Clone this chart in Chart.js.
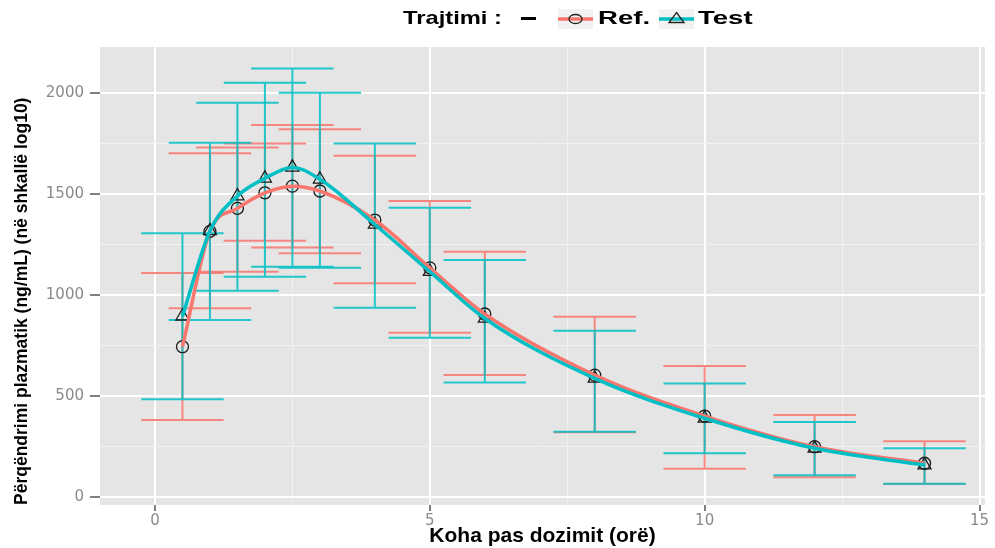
<!DOCTYPE html>
<html lang="sq">
<head>
  <meta charset="UTF-8" />
  <title>Përqëndrimi plazmatik</title>
  <script src="https://cdn.jsdelivr.net/npm/chart.js"></script>
  <style>
    html, body { margin: 0; padding: 0; background: #fff; }
    .wrap { position: relative; width: 995px; height: 548px; overflow: hidden; }
    canvas { position: absolute; left: 0; top: 0; }
    .lg { position: absolute; font-family: "Liberation Sans", Arial, sans-serif; font-weight: bold;
          font-size: 19px; line-height: 20px; color: #000; transform-origin: left center; white-space: nowrap; }
    .key { position: absolute; top: 9px; width: 35px; height: 20px; }
  </style>
</head>
<body>
  <div class="wrap">
    <canvas id="chart" width="995" height="548"></canvas>

    <!-- Legend -->
    <span class="lg" style="left:403px; top:8px; transform:scaleX(1.25)">Trajtimi :</span>
    <div style="position:absolute; left:521px; top:17px; width:15px; height:3px; background:#000"></div>
    <svg class="key" style="left:558px" viewBox="0 0 35 20">
      <rect width="35" height="20" fill="#F2F2F2" />
      <line x1="0" y1="10" x2="35" y2="10" stroke="#F8766D" stroke-width="3.5" />
      <ellipse cx="17.5" cy="10" rx="6.5" ry="4.5" fill="none" stroke="#222" stroke-width="1.3" />
    </svg>
    <span class="lg" style="left:598px; top:8px; transform:scaleX(1.45)">Ref.</span>
    <svg class="key" style="left:659px" viewBox="0 0 35 20">
      <rect width="35" height="20" fill="#F2F2F2" />
      <line x1="0" y1="10" x2="35" y2="10" stroke="#00BFC4" stroke-width="3.5" />
      <polygon points="17.5,3.5 25,13.5 10,13.5" fill="none" stroke="#222" stroke-width="1.3" />
    </svg>
    <span class="lg" style="left:698px; top:8px; transform:scaleX(1.45)">Test</span>
  </div>

  <script>
    // koha (orë)
    const times = [0.5, 1, 1.5, 2, 2.5, 3, 4, 5, 6, 8, 10, 12, 14];

    // Ref.
    const refMean = [744, 1316, 1430, 1507, 1540, 1516, 1372, 1135, 906, 603, 400, 248, 166];
    const refLow  = [380, 934, 1116, 1269, 1236, 1207, 1058, 813, 603, 320, 139, 96, 63];
    const refHigh = [1109, 1703, 1732, 1752, 1843, 1822, 1691, 1466, 1215, 892, 648, 405, 275];

    // Test
    const testMean = [895, 1318, 1491, 1579, 1633, 1574, 1350, 1116, 884, 587, 389, 240, 157];
    const testLow  = [483, 876, 1021, 1091, 1140, 1135, 937, 788, 567, 322, 215, 106, 64];
    const testHigh = [1306, 1755, 1953, 2053, 2124, 2003, 1752, 1433, 1174, 823, 562, 370, 240];

    // ticks
    const xMajorTicks = [0, 5, 10, 15];
    const xMinorTicks = [2.5, 7.5, 12.5];
    const yMajorTicks = [0, 500, 1000, 1500, 2000];
    const yMinorTicks = [250, 750, 1250, 1750];

    const REF_COLOR = "#F8766D";
    const TEST_COLOR = "#00BFC4";
    const capHalf = 0.75;

    const xy = arr => times.map((t, i) => ({ x: t, y: arr[i] }));
    const allTicks = (major, minor) => [...major, ...minor].sort((a, b) => a - b).map(v => ({ value: v }));

    // grey ggplot panel
    const panelBg = {
      id: "panelBg",
      beforeDraw(chart) {
        const { ctx, chartArea: a } = chart;
        ctx.save();
        ctx.fillStyle = "#E5E5E5";
        ctx.fillRect(a.left, a.top, a.right - a.left, a.bottom - a.top);
        ctx.restore();
      }
    };

    // error bars under the lines
    const errorBars = {
      id: "errorBars",
      beforeDatasetsDraw(chart) {
        const { ctx, scales: { x, y } } = chart;
        const groups = [
          { low: refLow, high: refHigh, color: "rgba(248,118,109,0.85)" },
          { low: testLow, high: testHigh, color: "rgba(0,191,196,0.85)" }
        ];
        ctx.save();
        ctx.lineWidth = 2;
        groups.forEach(g => {
          ctx.strokeStyle = g.color;
          times.forEach((t, i) => {
            const px = x.getPixelForValue(t);
            const l = x.getPixelForValue(t - capHalf);
            const r = x.getPixelForValue(t + capHalf);
            const yl = y.getPixelForValue(g.low[i]);
            const yh = y.getPixelForValue(g.high[i]);
            ctx.beginPath();
            ctx.moveTo(px, yl); ctx.lineTo(px, yh);
            ctx.moveTo(l, yl); ctx.lineTo(r, yl);
            ctx.moveTo(l, yh); ctx.lineTo(r, yh);
            ctx.stroke();
          });
        });
        ctx.restore();
      }
    };

    const gridOpts = majors => ({
      color: c => majors.includes(c.tick.value) ? "#FFFFFF" : "#F2F2F2",
      lineWidth: c => majors.includes(c.tick.value) ? 2 : 1,
      tickColor: c => majors.includes(c.tick.value) ? "#7F7F7F" : "rgba(0,0,0,0)",
      tickWidth: 2
    });

    new Chart(document.getElementById("chart"), {
      type: "scatter",
      data: {
        datasets: [
          { label: "Test", data: xy(testMean), showLine: true, borderColor: TEST_COLOR, borderWidth: 3.5,
            pointRadius: 0, cubicInterpolationMode: "monotone", fill: false, order: 0 },
          { label: "Ref.", data: xy(refMean), showLine: true, borderColor: REF_COLOR, borderWidth: 3.5,
            pointRadius: 0, cubicInterpolationMode: "monotone", fill: false, order: 1 },
          { label: "Test pikat", data: xy(testMean), showLine: false, pointStyle: "triangle", pointRadius: 7.5,
            pointBorderColor: "#1A1A1A", pointBackgroundColor: "rgba(0,0,0,0)", pointBorderWidth: 1.3, order: 2 },
          { label: "Ref. pikat", data: xy(refMean), showLine: false, pointStyle: "circle", pointRadius: 6,
            pointBorderColor: "#1A1A1A", pointBackgroundColor: "rgba(0,0,0,0)", pointBorderWidth: 1.3, order: 3 }
        ]
      },
      options: {
        responsive: false,
        animation: false,
        layout: { padding: { top: 47, left: 0, right: 10, bottom: 0 } },
        plugins: { legend: { display: false }, tooltip: { enabled: false } },
        scales: {
          x: {
            type: "linear", min: -1.0, max: 15.1,
            afterBuildTicks: s => { s.ticks = allTicks(xMajorTicks, xMinorTicks); },
            afterFit: s => { s.height = 43; },
            grid: { ...gridOpts(xMajorTicks), tickLength: 6 },
            border: { display: false },
            ticks: {
              callback: v => xMajorTicks.includes(v) ? String(v) : "",
              color: "#8A8A8A", font: { family: "DejaVu Sans", size: 15 }, padding: 1,
              maxRotation: 0, autoSkip: false
            },
            title: {
              display: true, text: "Koha pas dozimit (orë)", color: "#000",
              font: { family: "Liberation Sans", weight: "bold", size: 21, lineHeight: 1 },
              padding: { top: 0, bottom: 1 }
            }
          },
          y: {
            type: "linear", min: -41, max: 2230,
            afterBuildTicks: s => { s.ticks = allTicks(yMajorTicks, yMinorTicks); },
            afterFit: s => { s.width = 100; },
            grid: { ...gridOpts(yMajorTicks), tickLength: 10 },
            border: { display: false },
            ticks: {
              callback: v => yMajorTicks.includes(v) ? String(v) : "",
              color: "#8A8A8A", font: { family: "DejaVu Sans", size: 15 }, padding: 6, autoSkip: false
            },
            title: {
              display: true, text: "Përqëndrimi plazmatik (ng/mL) (në shkallë log10)", color: "#000",
              align: "start",
              font: { family: "Liberation Sans", weight: "bold", size: 17.5, lineHeight: 1.1 },
              padding: { top: 13, bottom: 0 }
            }
          }
        }
      },
      plugins: [panelBg, errorBars]
    });
  </script>
</body>
</html>
